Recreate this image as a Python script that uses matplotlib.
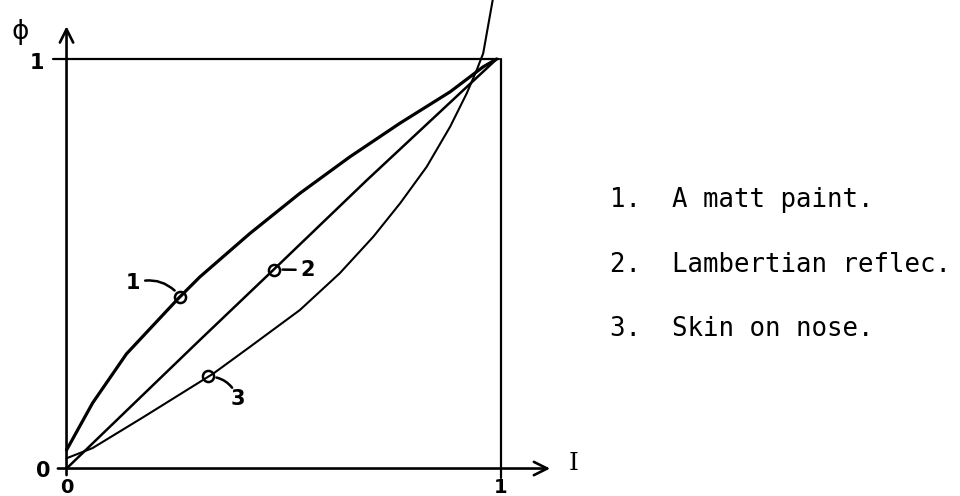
import matplotlib
matplotlib.use("Agg")
import matplotlib.pyplot as plt

# curves (I on x, phi on y, both 0..1)
matt_x = [0, 0.06, 0.138, 0.257, 0.307, 0.422, 0.537, 0.652, 0.767, 0.883, 0.959, 0.99]
matt_y = [0.045, 0.16, 0.28, 0.415, 0.468, 0.574, 0.672, 0.761, 0.843, 0.920, 0.981, 1.0]

lamb_x = [0, 0.307, 0.476, 0.691, 0.99]
lamb_y = [0, 0.314, 0.485, 0.704, 1.0]

skin_x = [0, 0.06, 0.176, 0.338, 0.422, 0.537, 0.629, 0.706, 0.768, 0.829, 0.883, 0.921,
          0.944, 0.959, 0.981]
skin_y = [0.025, 0.05, 0.125, 0.232, 0.297, 0.387, 0.477, 0.566, 0.648, 0.737, 0.835, 0.916,
          0.973, 1.014, 1.145]

legend_lines = ["1.  A matt paint.", "2.  Lambertian reflec.", "3.  Skin on nose."]

# curve tags: (point on curve, label position, label)
tags = [
    ((0.262, 0.42), (0.153, 0.452), "1"),
    ((0.478, 0.486), (0.556, 0.485), "2"),
    ((0.326, 0.225), (0.394, 0.17), "3"),
]

fig = plt.figure(figsize=(9.6, 4.96), dpi=100)
ax = fig.add_axes([0.0693, 0.0554, 0.4526, 0.8256])
ax.set_xlim(0, 1)
ax.set_ylim(0, 1)
ax.axis("off")

k = dict(color="black", clip_on=False, solid_capstyle="round")
arrow = dict(arrowstyle="->", lw=1.9, color="black", mutation_scale=24, shrinkA=0, shrinkB=0)

# axes with arrows
ax.annotate("", xy=(0, 1.08), xytext=(0, -0.016), arrowprops=arrow, annotation_clip=False)
ax.annotate("", xy=(1.113, 0), xytext=(-0.02, 0), arrowprops=arrow, annotation_clip=False)
# unit box
ax.plot([-0.031, 0.995], [1.0, 1.0], lw=1.6, **k)
ax.plot([1.0, 1.0], [-0.023, 1.0], lw=1.6, **k)

# the three curves
ax.plot(matt_x, matt_y, lw=2.3, **k)
ax.plot(lamb_x, lamb_y, lw=1.8, **k)
ax.plot(skin_x, skin_y, lw=1.5, **k)

# hand drawn tags
rads = [-0.35, 0.0, 0.35]
for (pt, lab, txt), rad in zip(tags, rads):
    ax.plot([pt[0]], [pt[1]], marker="o", ms=8, mfc="none", mec="black", mew=1.8,
            clip_on=False)
    ax.annotate("", xy=pt, xytext=lab,
                arrowprops=dict(arrowstyle="-", lw=1.8, color="black",
                                connectionstyle=f"arc3,rad={rad}",
                                shrinkA=9, shrinkB=6))
    ax.text(lab[0], lab[1], txt, fontsize=15, fontweight="bold",
            ha="center", va="center")

# tick labels and axis names
hand = dict(fontsize=15, fontweight="bold", ha="center", va="center")
ax.text(-0.054, -0.006, "0", **hand)
ax.text(0.0, -0.046, "0", fontsize=14, fontweight="bold", ha="center", va="center")
ax.text(1.0, -0.046, "1", fontsize=14, fontweight="bold", ha="center", va="center")
ax.text(-0.068, 0.99, "1", **hand)
ax.text(-0.107, 1.065, "ϕ", fontsize=19, ha="center", va="center")
ax.text(1.166, 0.012, "I", fontsize=18, family="DejaVu Serif", ha="center", va="center")

# legend text on the right
for i, line in enumerate(legend_lines):
    fig.text(610 / 960, 1 - (207 + 64.5 * i) / 496, line, fontsize=18.5,
             family="DejaVu Sans Mono", ha="left", va="baseline")

fig.savefig("out.png", dpi=100)
